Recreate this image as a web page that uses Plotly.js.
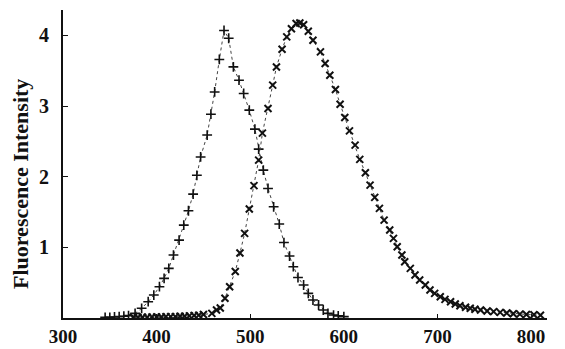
<!DOCTYPE html>
<html>
<head>
<meta charset="utf-8">
<script src="https://cdn.plot.ly/plotly-3.0.1.min.js"></script>
<style>html,body{margin:0;padding:0;background:#fff;}#chart{width:565px;height:349px;}</style>
</head>
<body>
<div id="chart"></div>
<script>
// '+' series (shorter-wavelength emission band)
var plusX = [345,350,355,360,365,370,377,384,391,397,403,408,413,418,424,429,434,439,443,447,454,458,462,467,472,477,482,488,493,499,505,509,514,519,525,531,536,542,546,551,557,562,567,573,578,583,589,594,600];
var plusY = [0.01,0.01,0.015,0.02,0.025,0.033,0.066,0.137,0.231,0.325,0.443,0.561,0.703,0.891,1.103,1.315,1.518,1.754,2.02,2.28,2.59,2.885,3.20,3.66,4.07,3.96,3.555,3.366,3.178,2.942,2.673,2.39,2.093,1.834,1.574,1.33,1.068,0.877,0.726,0.573,0.467,0.349,0.255,0.184,0.113,0.066,0.042,0.03,0.02];

// 'x' series (longer-wavelength emission band)
var crossX = [375,380,385,390,395,400,405,410,415,420,425,430,435,440,445,450,459,464,468,473,478,484,489,494,499,504,509,513,519,524,528,534,539,544,549,553,557,562,567,575,580,585,591,596,601,606,612,617,623,628,633,638,643,649,653,657,662,665,671,676,681,687,692,697,703,708,714,719,724,730,735,740,746,753,760,767,774,781,788,795,803,810];
var crossY = [0.01,0.01,0.01,0.01,0.015,0.015,0.015,0.02,0.02,0.02,0.025,0.025,0.03,0.035,0.04,0.05,0.066,0.113,0.141,0.279,0.443,0.658,0.919,1.198,1.542,1.874,2.235,2.617,2.966,3.296,3.554,3.805,3.979,4.095,4.168,4.177,4.151,4.059,3.932,3.767,3.603,3.437,3.235,3.027,2.839,2.649,2.447,2.245,2.055,1.881,1.707,1.552,1.386,1.245,1.127,1.008,0.891,0.796,0.703,0.608,0.537,0.467,0.396,0.349,0.301,0.264,0.231,0.198,0.174,0.151,0.137,0.123,0.113,0.1,0.09,0.08,0.07,0.06,0.055,0.05,0.045,0.04];

var xTicks = [300,400,500,600,700,800];
var yTicks = [1,2,3,4];
var yTitle = "Fluorescence Intensity";

var serif = '"Liberation Serif", "Times New Roman", serif';

var traces = [
  {x: plusX, y: plusY, type: 'scatter', mode: 'lines+markers',
   line: {color: '#444', width: 1, dash: 'dot'},
   marker: {symbol: 'cross-thin', size: 7, color: '#111', line: {color: '#111', width: 1.6}},
   showlegend: false, hoverinfo: 'skip'},
  {x: crossX, y: crossY, type: 'scatter', mode: 'lines+markers',
   line: {color: '#444', width: 1, dash: 'dot'},
   marker: {symbol: 'x-thin', size: 7, color: '#111', line: {color: '#111', width: 2}},
   showlegend: false, hoverinfo: 'skip'}
];

var layout = {
  width: 565, height: 349,
  margin: {l: 63, r: 18, t: 10, b: 31, pad: 0},
  paper_bgcolor: '#ffffff', plot_bgcolor: '#ffffff',
  showlegend: false,
  xaxis: {
    range: [300, 817], tickvals: xTicks, ticktext: xTicks.map(String),
    showgrid: false, zeroline: false, showline: true, linecolor: '#111', linewidth: 2,
    ticks: 'inside', ticklen: 4, tickcolor: '#111', tickwidth: 1,
    tickfont: {family: serif, size: 19, color: '#111', weight: 'bold'},
    ticklabelstandoff: 0
  },
  yaxis: {
    range: [0, 4.36], tickvals: yTicks, ticktext: yTicks.map(String),
    showgrid: false, zeroline: false, showline: true, linecolor: '#111', linewidth: 2,
    ticks: 'inside', ticklen: 5, tickcolor: '#111', tickwidth: 1,
    tickfont: {family: serif, size: 20, color: '#111', weight: 'bold'},
    ticklabelstandoff: 8
  },
  annotations: [{
    text: yTitle, xref: 'paper', yref: 'paper',
    x: -0.0888, y: 0.435, xanchor: 'center', yanchor: 'middle',
    textangle: -90, showarrow: false,
    font: {family: serif, size: 22, color: '#111', weight: 'bold'}
  }]
};

Plotly.newPlot('chart', traces, layout, {staticPlot: true, displayModeBar: false});
</script>
</body>
</html>
